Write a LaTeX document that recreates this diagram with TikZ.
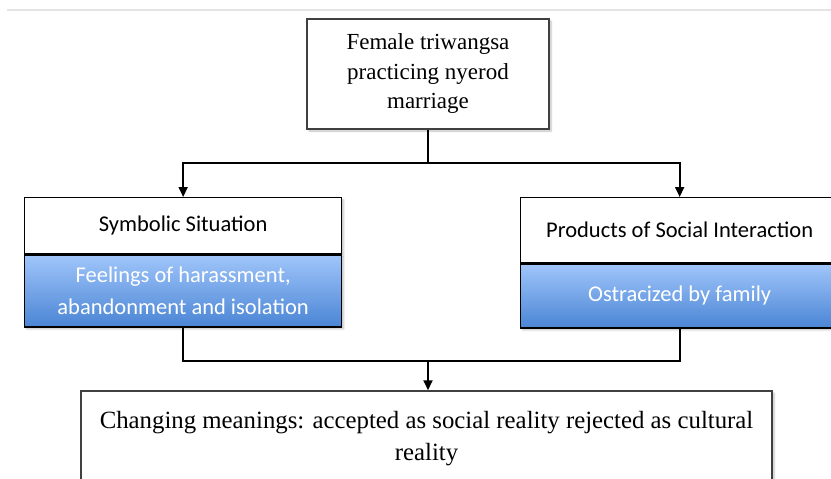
\documentclass[tikz,border=0pt]{standalone}
\usepackage{fontspec}
\setmainfont{Liberation Serif}
\newfontfamily\calibrifont{Carlito}
\usetikzlibrary{arrows.meta,shadows.blur}

\definecolor{edgegray}{HTML}{404040}
\definecolor{rulegray}{HTML}{E4E4E4}
\definecolor{bluetop}{HTML}{A0C5FA}
\definecolor{bluebot}{HTML}{4A85D5}

\tikzset{
  serifbox/.style={draw=edgegray, line width=1.5pt, fill=white, align=center,
    blur shadow={shadow xshift=2pt, shadow yshift=-2pt, shadow blur steps=6, shadow opacity=25}},
  headbox/.style={draw=black, line width=1.3pt, fill=white, align=center, anchor=north west,
    inner sep=0pt, font=\calibrifont\fontsize{22.5}{32}\selectfont,
    blur shadow={shadow xshift=2pt, shadow yshift=-2pt, shadow blur steps=6, shadow opacity=25}},
  bluebox/.style={headbox, top color=bluetop, bottom color=bluebot, text=white},
  conn/.style={line width=1.8pt},
  arr/.style={conn, -{Triangle[width=9pt,length=10pt]}}
}

\begin{document}
\begin{tikzpicture}[x=1pt, y=-1pt]
  \useasboundingbox (0,0) rectangle (831,479);
  \clip (0,0) rectangle (831,479);
  \draw[rulegray, line width=2pt] (7,10) -- (831,10);

  % top box
  \node[serifbox, minimum width=242pt, minimum height=110pt, font=\fontsize{23}{29.5}\selectfont]
    (top) at (428,74) {Female triwangsa\\practicing nyerod\\marriage};

  % left column
  \node[headbox, minimum width=317pt, minimum height=56pt] (symL) at (24,197) {Symbolic Situation};
  \node[bluebox, minimum width=317pt, minimum height=72pt] (feelL) at (symL.south west)
    {Feelings of harassment,\\abandonment and isolation};

  % right column
  \node[headbox, minimum width=318pt, minimum height=65pt] (symR) at (520,197) {Products of Social Interaction};
  \node[bluebox, minimum width=318pt, minimum height=64pt] (feelR) at (symR.south west) {Ostracized by family};

  % bottom box
  \node[serifbox, minimum width=691pt, minimum height=96pt, font=\fontsize{24.8}{32}\selectfont]
    (mean) at (426.5,439) {Changing meanings: accepted as social reality rejected as cultural\\reality};

  \coordinate (split) at (428,163);
  \coordinate (join) at (428,361);
  \draw[conn] (top.south) -- (split);
  \draw[arr] (split) -| (symL.north);
  \draw[arr] (split) -| (symR.north);
  \draw[conn] (feelL.south) |- (join) -| (feelR.south);
  \draw[arr] (join) -- (join |- mean.north);
\end{tikzpicture}
\end{document}
